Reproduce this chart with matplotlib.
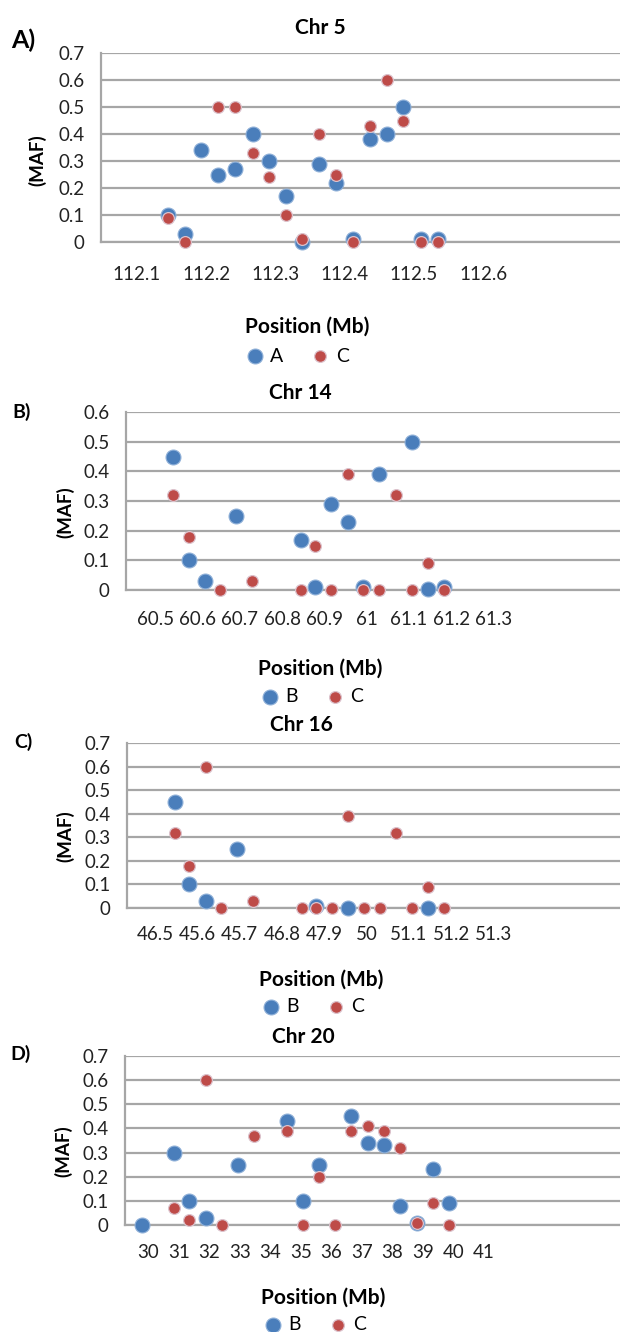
import numpy as np
import matplotlib
matplotlib.use('Agg')
import matplotlib.pyplot as plt

plt.rcParams['font.family'] = ['Lato', 'DejaVu Sans']

# ---- data ----
# Chr 5 (x in Mb)
chr5_a_x = [112.145, 112.169, 112.193, 112.217, 112.242, 112.267, 112.291, 112.315,
            112.338, 112.363, 112.388, 112.412, 112.436, 112.461, 112.485, 112.510, 112.535]
chr5_a_y = [0.10, 0.03, 0.34, 0.25, 0.27, 0.40, 0.30, 0.17, 0.00, 0.29, 0.22, 0.01,
            0.38, 0.40, 0.50, 0.01, 0.01]
chr5_c_x = [112.145, 112.169, 112.217, 112.242, 112.267, 112.291, 112.315, 112.338,
            112.363, 112.388, 112.412, 112.436, 112.461, 112.485, 112.510, 112.535]
chr5_c_y = [0.09, 0.00, 0.50, 0.50, 0.33, 0.24, 0.10, 0.01, 0.40, 0.25, 0.00, 0.43,
            0.60, 0.45, 0.00, 0.00]
chr5_ticks = [112.1, 112.2, 112.3, 112.4, 112.5, 112.6]

# Chr 14 (x in Mb)
chr14_b_x = [60.543, 60.579, 60.617, 60.691, 60.845, 60.878, 60.916, 60.955, 60.992,
             61.030, 61.107, 61.145, 61.182]
chr14_b_y = [0.45, 0.10, 0.03, 0.25, 0.17, 0.01, 0.29, 0.23, 0.01, 0.39, 0.50, 0.005, 0.01]
chr14_c_x = [60.543, 60.579, 60.654, 60.730, 60.845, 60.878, 60.916, 60.955, 60.992,
             61.030, 61.069, 61.107, 61.145, 61.182]
chr14_c_y = [0.32, 0.18, 0.00, 0.03, 0.00, 0.15, 0.00, 0.39, 0.00, 0.00, 0.32, 0.00, 0.09, 0.00]
chr14_ticks = [60.5, 60.6, 60.7, 60.8, 60.9, 61.0, 61.1, 61.2, 61.3]
chr14_labels = ['60.5', '60.6', '60.7', '60.8', '60.9', '61', '61.1', '61.2', '61.3']

# Chr 16 (x as position along the category axis; labels as printed)
chr16_b_x = [0.47, 0.81, 1.20, 1.95, 3.81, 4.56, 6.46]
chr16_b_y = [0.45, 0.10, 0.03, 0.25, 0.01, 0.00, 0.00]
chr16_c_x = [0.47, 0.81, 1.20, 1.56, 2.32, 3.47, 3.81, 4.18, 4.56, 4.94, 5.32, 5.70,
             6.08, 6.46, 6.83]
chr16_c_y = [0.32, 0.18, 0.60, 0.00, 0.03, 0.00, 0.00, 0.00, 0.39, 0.00, 0.00, 0.32,
             0.00, 0.09, 0.00]
chr16_ticks = [0, 1, 2, 3, 4, 5, 6, 7, 8]
chr16_labels = ['46.5', '45.6', '45.7', '46.8', '47.9', '50', '51.1', '51.2', '51.3']

# Chr 20 (x in Mb)
chr20_b_x = [29.78, 30.84, 31.33, 31.88, 32.93, 34.55, 35.08, 35.58, 36.64, 37.19,
             37.72, 38.26, 38.79, 39.33, 39.86]
chr20_b_y = [0.00, 0.30, 0.10, 0.03, 0.25, 0.43, 0.10, 0.25, 0.45, 0.34, 0.33, 0.08,
             0.01, 0.23, 0.09]
chr20_c_x = [30.84, 31.33, 31.88, 32.40, 33.47, 34.55, 35.08, 35.58, 36.12, 36.64,
             37.19, 37.72, 38.26, 38.79, 39.33, 39.86]
chr20_c_y = [0.07, 0.02, 0.60, 0.00, 0.37, 0.39, 0.00, 0.20, 0.00, 0.39, 0.41, 0.39,
             0.32, 0.01, 0.09, 0.00]
chr20_ticks = list(range(30, 42))

BLUE = '#4a7ebb'
RED = '#be4b48'
GRID = '#a6a6a6'
TICK_FS = 13.5
LAB_FS = 15

W, H = 620, 1332
fig = plt.figure(figsize=(W / 100, H / 100), dpi=100)


def px_axes(left, top, bottom, right=625):
    return fig.add_axes([left / W, 1 - bottom / H, (right - left) / W, (bottom - top) / H])


def ftext(x, y, s, **kw):
    fig.text(x / W, 1 - y / H, s, ha='center', va='center', **kw)


def panel(ax, bx, by, cx, cy, ticks, labels, xlim, ymax, pad, names):
    ax.scatter(bx, by, s=115, color=BLUE, edgecolor='#8fb0d8', linewidth=0.8,
               zorder=3, clip_on=False, label=names[0])
    ax.scatter(cx, cy, s=72, color=RED, edgecolor='#dcc2cc', linewidth=0.9,
               zorder=4, clip_on=False, label=names[1])
    ax.set_xlim(*xlim)
    ax.set_ylim(0, ymax)
    yt = np.round(np.arange(0, ymax + 0.001, 0.1), 1)
    ax.set_yticks(yt)
    ax.set_yticklabels(['0'] + ['%.1f' % v for v in yt[1:]])
    ax.set_xticks(ticks)
    ax.set_xticklabels(labels)
    ax.yaxis.grid(True, color=GRID, linewidth=1.6)
    ax.set_axisbelow(True)
    for s in ['top', 'right']:
        ax.spines[s].set_visible(False)
    for s in ['left', 'bottom']:
        ax.spines[s].set_color(GRID)
        ax.spines[s].set_linewidth(1.6)
    ax.tick_params(axis='x', length=0, pad=pad, labelsize=TICK_FS, labelcolor='#222222')
    ax.tick_params(axis='y', length=0, pad=12, labelsize=TICK_FS, labelcolor='#222222')


def legend(ax, x, y):
    ax.legend(loc='center', bbox_to_anchor=(x / W, 1 - y / H), bbox_transform=fig.transFigure,
              ncol=2, frameon=False, handletextpad=0.0, columnspacing=1.1,
              handlelength=1.6, fontsize=14, borderpad=0, markerscale=1.0)


# A) Chr 5
ax = px_axes(101, 53, 242)
panel(ax, chr5_a_x, chr5_a_y, chr5_c_x, chr5_c_y, chr5_ticks,
      [str(t) for t in chr5_ticks], (112.048, 112.805), 0.7, 17, ['A', 'C'])
legend(ax, 294, 356)
ftext(320, 28, 'Chr 5', fontsize=LAB_FS, fontweight='bold')
ftext(23, 40, 'A)', fontsize=18, fontweight='bold')
ftext(37, 160, '(MAF)', fontsize=13.5, fontweight='bold', rotation=90)
ftext(307, 327, 'Position (Mb)', fontsize=LAB_FS, fontweight='bold')

# B) Chr 14
ax = px_axes(126, 412, 590)
panel(ax, chr14_b_x, chr14_b_y, chr14_c_x, chr14_c_y, chr14_ticks, chr14_labels,
      (60.431, 61.611), 0.6, 15, ['B', 'C'])
legend(ax, 309, 697)
ftext(300, 393, 'Chr 14', fontsize=LAB_FS, fontweight='bold')
ftext(22, 412, 'B)', fontsize=14, fontweight='bold')
ftext(65, 512, '(MAF)', fontsize=13.5, fontweight='bold', rotation=90)
ftext(320, 669, 'Position (Mb)', fontsize=LAB_FS, fontweight='bold')

# C) Chr 16
ax = px_axes(127, 743, 908)
panel(ax, chr16_b_x, chr16_b_y, chr16_c_x, chr16_c_y, chr16_ticks, chr16_labels,
      (-0.662, 11.11), 0.7, 13, ['B', 'C'])
legend(ax, 310, 1007)
ftext(301, 725, 'Chr 16', fontsize=LAB_FS, fontweight='bold')
ftext(23, 742, 'C)', fontsize=14, fontweight='bold')
ftext(65, 836, '(MAF)', fontsize=13.5, fontweight='bold', rotation=90)
ftext(321, 980, 'Position (Mb)', fontsize=LAB_FS, fontweight='bold')

# D) Chr 20
ax = px_axes(125, 1056, 1225)
panel(ax, chr20_b_x, chr20_b_y, chr20_c_x, chr20_c_y, chr20_ticks,
      [str(t) for t in chr20_ticks], (29.237, 45.62), 0.7, 14, ['B', 'C'])
legend(ax, 312, 1325)
ftext(303, 1037, 'Chr 20', fontsize=LAB_FS, fontweight='bold')
ftext(20, 1054, 'D)', fontsize=14, fontweight='bold')
ftext(63, 1151, '(MAF)', fontsize=13.5, fontweight='bold', rotation=90)
ftext(323, 1298, 'Position (Mb)', fontsize=LAB_FS, fontweight='bold')

fig.savefig('out.png', dpi=100, facecolor='white')
